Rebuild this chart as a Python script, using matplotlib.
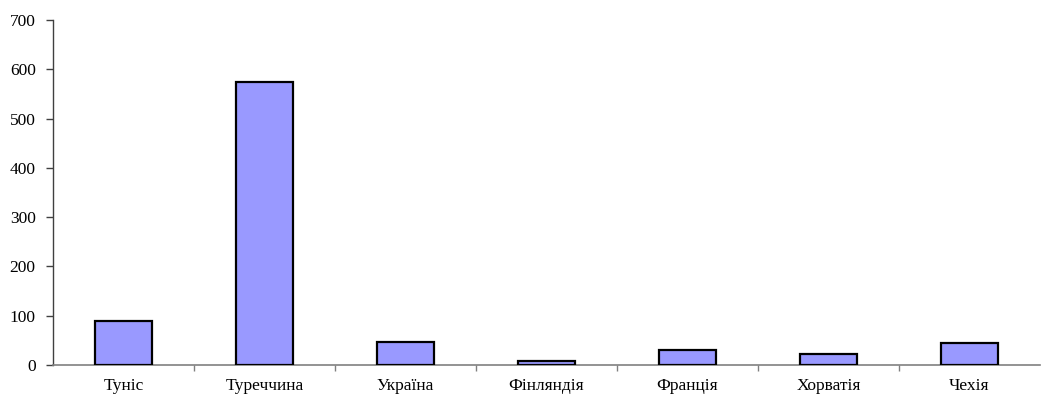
import matplotlib
matplotlib.use("Agg")
import matplotlib.pyplot as plt
import numpy as np

countries = ["Туніс", "Туреччина", "Україна", "Фінляндія", "Франція", "Хорватія", "Чехія"]
values = [89, 574, 46, 9, 30, 23, 45]
y_ticks = [0, 100, 200, 300, 400, 500, 600, 700]

plt.rcParams['font.family'] = ['Liberation Serif', 'DejaVu Serif']
plt.rcParams['font.size'] = 12.5

fig = plt.figure(figsize=(10.41, 3.98), dpi=100)
ax = fig.add_axes([0.0509, 0.0829, 0.9481, 0.8668])

x = np.arange(len(countries))
ax.bar(x, values, width=0.4, color='#9999FF', edgecolor='black', linewidth=1.6, zorder=3)

ax.set_xlim(-0.5, len(countries) - 0.5)
ax.set_ylim(0, 700)
ax.set_yticks(y_ticks)

ax.set_xticks(x)
ax.set_xticklabels(countries)
ax.tick_params(axis='x', which='major', length=0, pad=9)
ax.set_xticks(np.arange(0.5, len(countries) - 0.5), minor=True)
ax.tick_params(axis='x', which='minor', length=4, width=1, color='#808080', direction='out')
ax.tick_params(axis='y', length=5, width=1, color='#404040', pad=7.5)

for s in ['top', 'right']:
    ax.spines[s].set_visible(False)
ax.spines['left'].set_color('#404040')
ax.spines['left'].set_linewidth(1)
ax.spines['bottom'].set_color('#808080')
ax.spines['bottom'].set_linewidth(1.2)

fig.savefig("out.png", dpi=100)
